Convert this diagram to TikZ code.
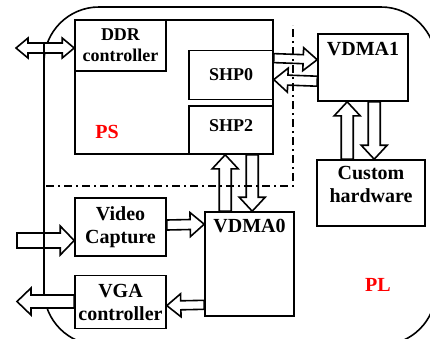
\documentclass[tikz,border=0pt]{standalone}
\usepackage{fontspec}
\setmainfont{Liberation Serif}
\usetikzlibrary{calc,positioning}

\newcommand{\boxfont}{\fontsize{20}{23}\selectfont\bfseries}
\newcommand{\smallboxfont}{\fontsize{18}{21}\selectfont\bfseries}

% hollow block arrow: [shaft half width]{tail}{tip}
\newcommand{\fatarrow}[3][5]{%
  \filldraw[fat] let \p1=#2, \p2=#3,
    \n1={veclen(\x2-\x1,\y2-\y1)}, \n2={(\x2-\x1)/\n1}, \n3={(\y2-\y1)/\n1},
    \n4={#1}, \n5={#1+7}, \n6={14} in
    ({\x1-(\n3)*\n4},{\y1+(\n2)*\n4})
    -- ({\x2-(\n2)*\n6-(\n3)*\n4},{\y2-(\n3)*\n6+(\n2)*\n4})
    -- ({\x2-(\n2)*\n6-(\n3)*\n5},{\y2-(\n3)*\n6+(\n2)*\n5})
    -- (\p2)
    -- ({\x2-(\n2)*\n6+(\n3)*\n5},{\y2-(\n3)*\n6-(\n2)*\n5})
    -- ({\x2-(\n2)*\n6+(\n3)*\n4},{\y2-(\n3)*\n6-(\n2)*\n4})
    -- ({\x1+(\n3)*\n4},{\y1-(\n2)*\n4}) -- cycle;}

% hollow block arrow with two heads
\newcommand{\fatdarrow}[2]{%
  \filldraw[fat] let \p1=#1, \p2=#2,
    \n1={veclen(\x2-\x1,\y2-\y1)}, \n2={(\x2-\x1)/\n1}, \n3={(\y2-\y1)/\n1},
    \n4={5}, \n5={10}, \n6={12} in
    (\p1)
    -- ({\x1+(\n2)*\n6-(\n3)*\n5},{\y1+(\n3)*\n6+(\n2)*\n5})
    -- ({\x1+(\n2)*\n6-(\n3)*\n4},{\y1+(\n3)*\n6+(\n2)*\n4})
    -- ({\x2-(\n2)*\n6-(\n3)*\n4},{\y2-(\n3)*\n6+(\n2)*\n4})
    -- ({\x2-(\n2)*\n6-(\n3)*\n5},{\y2-(\n3)*\n6+(\n2)*\n5})
    -- (\p2)
    -- ({\x2-(\n2)*\n6+(\n3)*\n5},{\y2-(\n3)*\n6-(\n2)*\n5})
    -- ({\x2-(\n2)*\n6+(\n3)*\n4},{\y2-(\n3)*\n6-(\n2)*\n4})
    -- ({\x1+(\n2)*\n6+(\n3)*\n4},{\y1+(\n3)*\n6-(\n2)*\n4})
    -- ({\x1+(\n2)*\n6+(\n3)*\n5},{\y1+(\n3)*\n6-(\n2)*\n5}) -- cycle;}

\begin{document}
\begin{tikzpicture}[x=1pt,y=-1pt,
box/.style={draw,line width=1.6pt,align=center,inner sep=1pt,font=\boxfont},
toplabel/.style={font=\boxfont,align=center,inner sep=0pt},
fat/.style={draw,fill=white,line width=1.6pt,line join=miter},
psborder/.style={line width=1.3pt,dash pattern=on 8pt off 4pt on 2pt off 4pt},
plframe/.style={line width=1.6pt,rounded corners=55pt},
region/.style={font=\boxfont,text=red}]
\useasboundingbox (0,0) rectangle (430,338);
\draw[plframe] (44,7) rectangle (436,345);

% PS side
\node[box,minimum width=198pt,minimum height=134pt] (ps) at (174,87) {};
\node[box,anchor=north west,minimum width=91pt,minimum height=51pt,font=\smallboxfont] (ddr) at (ps.north west) {DDR\\controller};
\node[box,anchor=south east,minimum width=84pt,minimum height=48pt,
  label={[toplabel,font=\smallboxfont,anchor=north,yshift=-14pt]north:SHP2}] (shp2) at (ps.south east) {};
\node[box,above=5pt of shp2,minimum width=84pt,minimum height=49pt,font=\smallboxfont] (shp0) {SHP0};
\node[region] (pslabel) at (107,132) {PS};

% PL side
\node[box,minimum width=90pt,minimum height=67pt,
  label={[toplabel,anchor=north,yshift=-9pt]north:VDMA1}] (vdma1) at (363,67.5) {};
\node[box,minimum width=108pt,minimum height=66pt,
  label={[toplabel,anchor=north,yshift=-7pt]north:Custom\\hardware}] (custom) at (371,193) {};
\node[box,minimum width=91pt,minimum height=58pt] (video) at (120.5,227) {Video\\Capture};
\node[box,below=18pt of video,minimum width=91pt,minimum height=53pt] (vga) {VGA\\controller};
\node[box,minimum width=89pt,minimum height=104pt,
  label={[toplabel,anchor=north,yshift=-8pt]north:VDMA0}] (vdma0) at (249.5,264) {};
\node[region] (pllabel) at (378,285) {PL};

\coordinate (ddrport) at (16,48);
\coordinate (vidin) at (17,240.5);
\coordinate (vgaout) at (17,301.5);
\coordinate (bustop) at (44,43);
\coordinate (busbot) at (44,295);

\fatdarrow{(ddrport)}{($(ddr.west)+(0,2.5)$)}
\fatarrow[7.5]{(vidin)}{(vidin -| video.west)}
\fatarrow[6.5]{(vgaout -| vga.west)}{(vgaout)}
\fatarrow{($(video.east)+(0,-2)$)}{($(vdma0.north west)+(0,13)$)}
\fatarrow[4.5]{($(vdma0.south west)+(0,-12)$)}{($(vga.east)+(0,3.5)$)}
\fatarrow[6]{($(vdma0.north west)+(21,0)$)}{($(shp2.south west)+(37,0)$)}
\fatarrow[6]{($(shp2.south west)+(64,0)$)}{($(vdma0.north west)+(48,0)$)}
\fatarrow[4.5]{($(shp0.north east)+(0,8.5)$)}{($(vdma1.north west)+(0,26.5)$)}
\fatarrow{($(vdma1.north west)+(0,48)$)}{($(shp0.north east)+(0,30)$)}
\fatarrow[6]{($(custom.north west)+(31,0)$)}{($(vdma1.south west)+(30,0)$)}
\fatarrow[6]{($(vdma1.south west)+(57,0)$)}{($(custom.north west)+(58,0)$)}

\draw[line width=1.6pt] (bustop) -- (busbot);
\draw[psborder] (46,186) -| (293,25);
\end{tikzpicture}
\end{document}
